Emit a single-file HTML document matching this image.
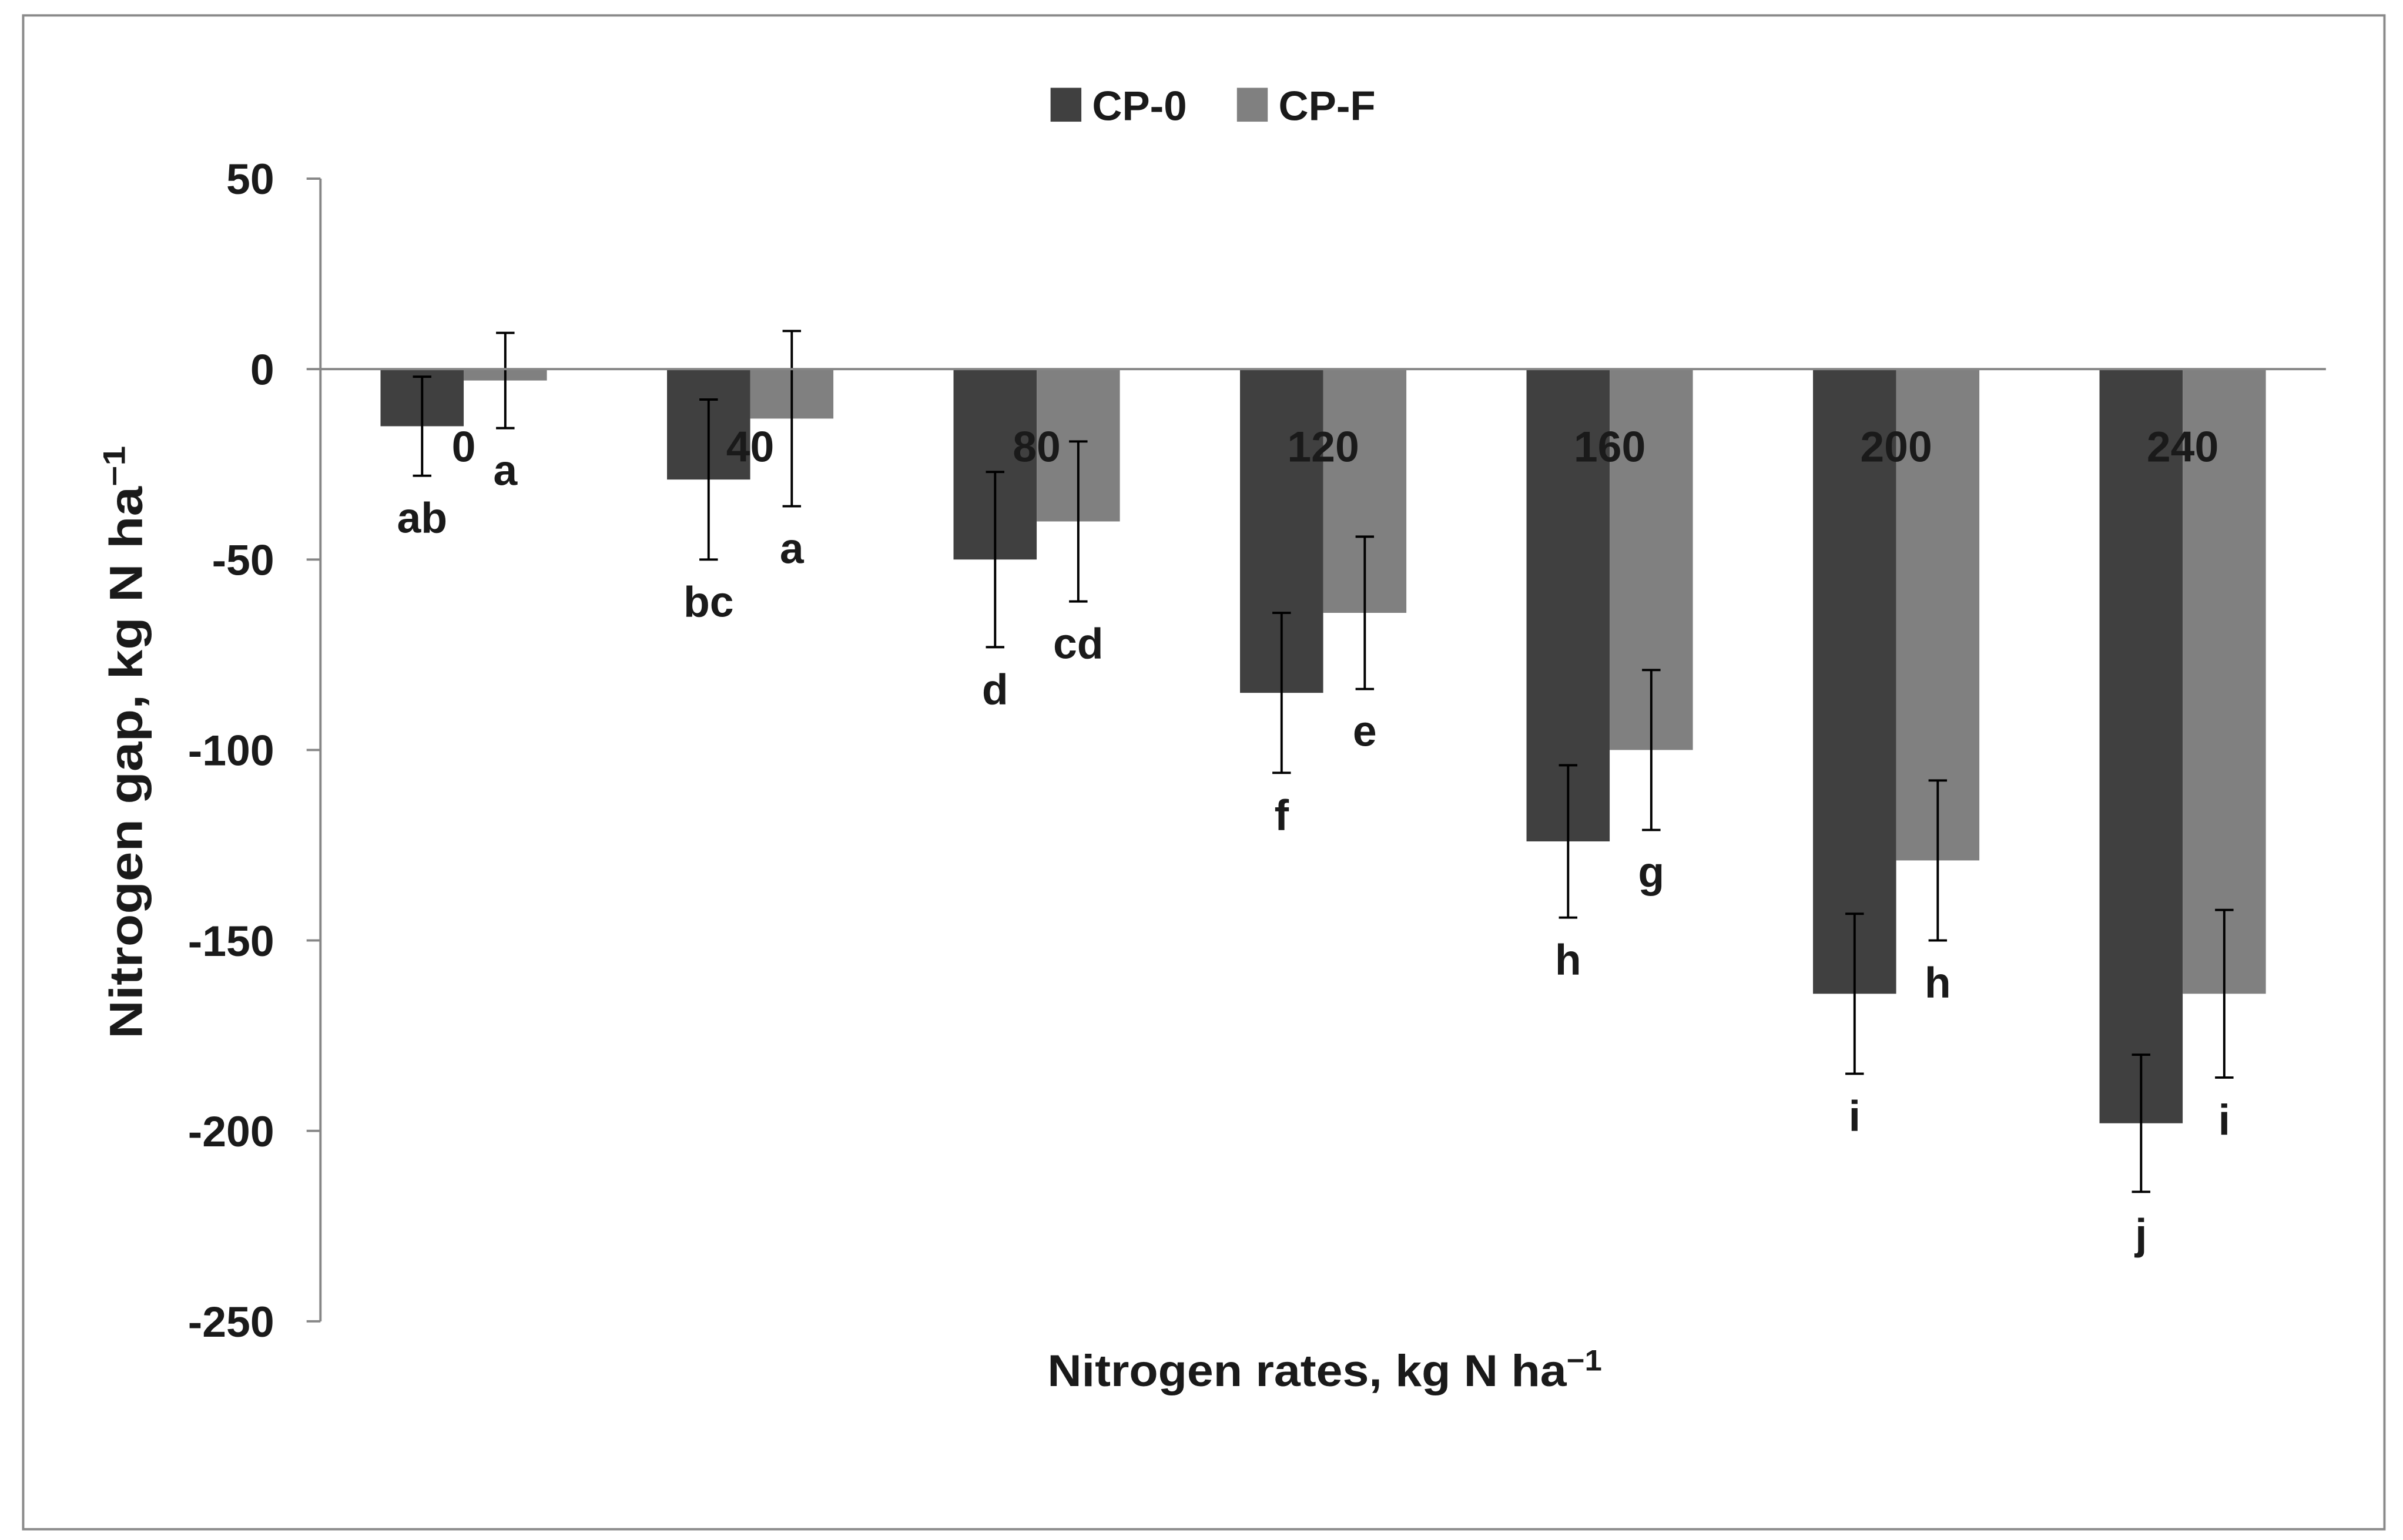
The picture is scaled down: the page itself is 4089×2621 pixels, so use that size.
<!DOCTYPE html>
<html><head><meta charset="utf-8"><style>
html,body{margin:0;padding:0;background:#fff}
svg{display:block}
text{font-family:"Liberation Sans",Arial,sans-serif}
</style></head><body>
<svg id="chart" width="4089" height="2621" viewBox="0 0 1560 1000" xmlns="http://www.w3.org/2000/svg">
<rect x="15" y="10" width="1533" height="983" fill="#fff" stroke="#8a8a8a" stroke-width="1.5"/>
<g>
<rect x="682" y="57" width="20" height="22" fill="#404040"/>
<text x="709" y="78" font-size="27" font-weight="bold" fill="#1a1a1a">CP-0</text>
<rect x="803" y="57" width="20" height="22" fill="#808080"/>
<text x="830" y="78" font-size="27" font-weight="bold" fill="#1a1a1a">CP-F</text>
</g>
<text transform="translate(92,482) rotate(-90)" text-anchor="middle" font-size="30" font-weight="bold" fill="#1a1a1a" textLength="385" lengthAdjust="spacingAndGlyphs">Nitrogen gap, kg N ha<tspan font-size="20" dy="-11">−1</tspan></text>
<text x="860" y="900" text-anchor="middle" font-size="29" font-weight="bold" fill="#1a1a1a" textLength="360" lengthAdjust="spacingAndGlyphs">Nitrogen rates, kg N ha<tspan font-size="19" dy="-10">−1</tspan></text>
<g id="plot"></g>
</svg>
<script>
const categories = ["0","40","80","120","160","200","240"];
const cp0 = [-15,-29,-50,-85,-124,-164,-198];
const cpf = [-3,-13,-40,-64,-100,-129,-164];
const cp0Err = [13,21,23,21,20,21,18];
const cpfErr = [12.5,23,21,20,21,21,22];
const cp0Letters = ["ab","bc","d","f","h","i","j"];
const cpfLetters = ["a","a","cd","e","g","h","i"];
const yTicks = [50,0,-50,-100,-150,-200,-250];

const NS = "http://www.w3.org/2000/svg";
const plot = document.getElementById("plot");
const x0 = 208, x1 = 1510, yTop = 116, yBot = 858, vMax = 50, vMin = -250;
const y = v => yTop + (vMax - v) / (vMax - vMin) * (yBot - yTop);
const band = (x1 - x0) / categories.length;
const cx = i => x0 + band * (i + 0.5);
const barW = 54;
function mk(tag, attrs){const e=document.createElementNS(NS,tag);for(const k in attrs)e.setAttribute(k,attrs[k]);plot.appendChild(e);return e;}

let ax = mk("line",{x1:x0,y1:yTop,x2:x0,y2:yBot,stroke:"#868686","stroke-width":1.5});


yTicks.forEach(t=>{
  const tk = mk("line",{x1:x0-9,y1:y(t),x2:x0,y2:y(t),stroke:"#868686","stroke-width":1.5});
  
  
  const lb = mk("text",{x:178,y:y(t)+10,"text-anchor":"end","font-size":28,"font-weight":"bold",fill:"#1a1a1a"});
  lb.textContent = t;
  
  
});

function series(vals, errs, letters, color, off, name){
  vals.forEach((v,i)=>{
    const xc = cx(i) + off;
    const r = mk("rect",{x:xc-barW/2,y:y(0),width:barW,height:y(v)-y(0),fill:color});
    
    
    const hi = y(v+errs[i]), lo = y(v-errs[i]);
    const g = mk("path",{d:`M${xc},${hi}V${lo}M${xc-6},${hi}H${xc+6}M${xc-6},${lo}H${xc+6}`,stroke:"#000","stroke-width":1.5,fill:"none"});
    
    
    const t = mk("text",{x:xc,y:lo+37,"text-anchor":"middle","font-size":28,"font-weight":"bold",fill:"#1a1a1a"});
    t.textContent = letters[i];
    
    
  });
}
series(cp0,cp0Err,cp0Letters,"#404040",-barW/2,"cp0");
series(cpf,cpfErr,cpfLetters,"#808080",barW/2,"cpf");

let zl = mk("line",{x1:x0,y1:y(0),x2:x1,y2:y(0),stroke:"#868686","stroke-width":1.5});


categories.forEach((c,i)=>{
  const t = mk("text",{x:cx(i),y:y(0)+60,"text-anchor":"middle","font-size":28,"font-weight":"bold",fill:"#1a1a1a"});
  t.textContent = c;
  
  
});
</script>
</body></html>
